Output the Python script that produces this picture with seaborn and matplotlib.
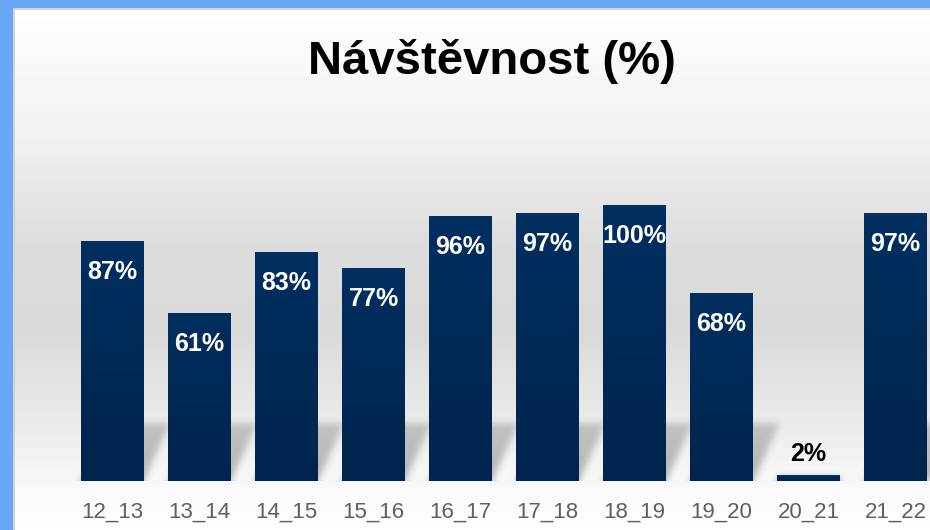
import numpy as np
import pandas as pd
import seaborn as sb
import matplotlib.pyplot as plt
from matplotlib.colors import LinearSegmentedColormap
from matplotlib.patches import Rectangle

# školní roky a návštěvnost v %
roky = ['12_13', '13_14', '14_15', '15_16', '16_17', '17_18', '18_19', '19_20', '20_21', '21_22']
navstevnost = [87, 61, 83, 77, 96, 97, 100, 68, 2, 97]

df = pd.DataFrame({'rok': roky, 'navstevnost': navstevnost})

sb.set_theme(style='white')
plt.rcParams['font.family'] = ['Liberation Sans', 'DejaVu Sans']

fig = plt.figure(figsize=(9.3, 5.3), dpi=100)
fig.patch.set_facecolor('#68a8f6')

# panel s přechodem bílá -> šedá -> bílá
W, H = 930, 530
bg = fig.add_axes([13 / W, 0, 1 - 13 / W, 522 / H])
bg.set_axis_off()
bg.add_patch(Rectangle((0, 0), 1, 1, color='#d3d3d3', zorder=0))
grad = LinearSegmentedColormap.from_list('bg', [
    (0.0, '#ffffff'), (0.25, '#f1f1f1'), (0.45, '#dddddd'), (0.62, '#dadada'),
    (0.80, '#ececec'), (0.93, '#fbfbfb'), (1.0, '#ffffff')])
bg.imshow(np.linspace(0, 1, 256).reshape(-1, 1), aspect='auto', cmap=grad,
          extent=[2 / 917, 1, 0, 1 - 2 / 522], zorder=1)
bg.set_xlim(0, 1)
bg.set_ylim(0, 1)

# hlavní graf
ax = fig.add_axes([0, 49 / H, 1, 481 / H])
ax.patch.set_alpha(0)
px_x, px_y = 87, 2.76
ax.set_ylim(0, 481 / px_y)

sb.barplot(data=df, x='rok', y='navstevnost', color='#002b59', width=63 / 87,
           saturation=1, linewidth=0, ax=ax, zorder=3)
xlim = (-112.5 / 87, (930 - 112.5) / 87)
ax.set_xlim(*xlim)

bars = [p for p in ax.patches if isinstance(p, Rectangle)]

# rozmazané stíny za sloupci (šikmo doprava nahoru)
sh_px, dx_px = 58, 26
gx = np.arange(0, 930)
gy = np.arange(0, 90)
X, Y = np.meshgrid(gx, gy)
shade = np.zeros(X.shape)
for p in bars:
    xl = (p.get_x() - xlim[0]) * px_x
    xr = xl + p.get_width() * px_x
    top = min(sh_px, p.get_height() * px_y * 0.9)
    off = Y * dx_px / sh_px
    m = (X >= xl + off) & (X <= xr + off) & (Y <= top)
    shade = np.maximum(shade, m * (1 - 0.3 * Y / sh_px))
k = 4
for _ in range(2):
    c = np.cumsum(np.pad(shade, ((0, 0), (k, k)), mode='edge'), axis=1)
    shade = (c[:, 2 * k:] - c[:, :-2 * k]) / (2 * k)
    c = np.cumsum(np.pad(shade, ((k, k), (0, 0)), mode='edge'), axis=0)
    shade = (c[2 * k:, :] - c[:-2 * k, :]) / (2 * k)
rgba = np.zeros(shade.shape + (4,))
rgba[..., :3] = 0.45
rgba[..., 3] = np.clip(shade * 0.5, 0, 1)
ax.imshow(rgba, origin='lower', aspect='auto', interpolation='bilinear',
          extent=[xlim[0], xlim[0] + 930 / px_x, 0, 90 / px_y], zorder=2)

# přechod na sloupcích
bar_cmap = LinearSegmentedColormap.from_list('bar', ['#00244d', '#002f60'])
for p in bars:
    x0, w, h = p.get_x(), p.get_width(), p.get_height()
    im = ax.imshow(np.linspace(0, 1, 64).reshape(-1, 1), aspect='auto', cmap=bar_cmap,
                   origin='lower', extent=[x0, x0 + w, 0, h], zorder=3.5)
    im.set_clip_path(p)

ax.set_xlim(*xlim)
ax.set_ylim(0, 481 / px_y)

# popisky hodnot
for i, v in enumerate(navstevnost):
    if v > 10:
        ax.text(i, v - 31 / px_y, f'{v}%', ha='center', va='center',
                color='white', fontsize=18, fontweight='bold', zorder=5)
    else:
        ax.text(i, v + 21 / px_y, f'{v}%', ha='center', va='center',
                color='black', fontsize=18, fontweight='bold', zorder=5)

ax.set_xlabel('')
ax.set_ylabel('')
ax.set_yticks([])
ax.tick_params(axis='x', length=0, pad=15, labelsize=16, labelcolor='#5f5f5f')
for s in ax.spines.values():
    s.set_visible(False)

fig.text(492 / W, 1 - 62 / H, 'Návštěvnost (%)', ha='center', va='center',
         fontsize=34, fontweight='bold', color='black')

plt.savefig('out.png', dpi=100)
